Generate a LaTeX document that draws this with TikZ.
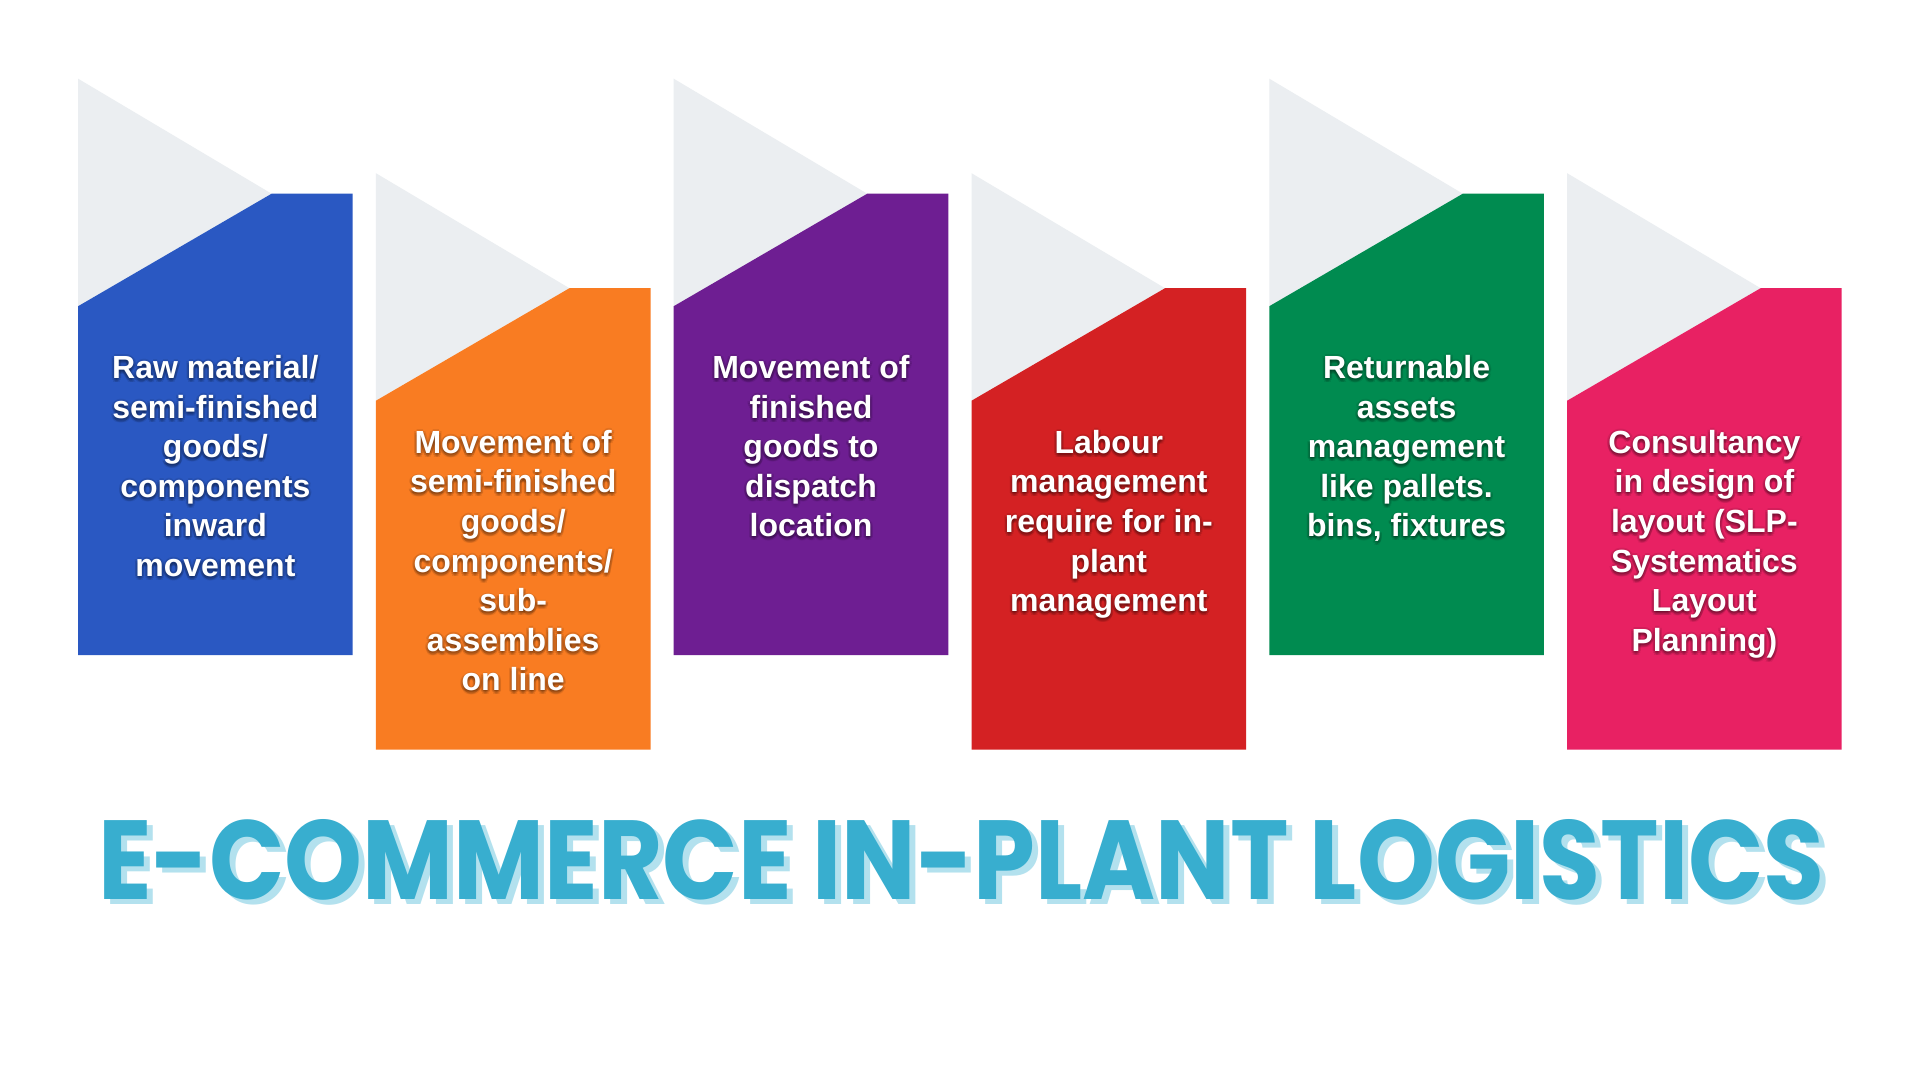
\documentclass[tikz,border=0pt]{standalone}
\usepackage{fontspec}
\usepackage{graphicx}
\setmainfont{Liberation Sans}
\newfontfamily\titlefont{Poppins}
\definecolor{trigray}{HTML}{EBEEF1}
\definecolor{cblue}{HTML}{2A58C2}
\definecolor{corange}{HTML}{F97C22}
\definecolor{cpurple}{HTML}{6E1E92}
\definecolor{cred}{HTML}{D42123}
\definecolor{cgreen}{HTML}{008B50}
\definecolor{cpink}{HTML}{E82163}
\definecolor{titleblue}{HTML}{38AECF}
\definecolor{titleshade}{HTML}{B3E1EE}
\newcommand\panel[6]{% #1 left, #2 top, #3 colour, #4 name, #5 text top, #6 text
  \coordinate (#4-tl) at (#1,#2);
  \fill[trigray] (#4-tl) -- ++(193.5,115) -- ++(-193.5,112.5) -- cycle;
  \fill[#3] (#1,#2+227.5) -- ++(193.5,-112.5) -- ++(81.1,0) -- ++(0,461.3) -- ++(-274.6,0) -- cycle;
  \foreach \dx/\dy [count=\k] in {0/3,2/2,-2/2,2.5/0.5,-2.5/0.5,0/-1.5,1/4,-1/4,0/1}
    \node[lbl, text=black, text opacity=0.085] (#4-s\k) at ({#1+137.3+\dx},{#5+\dy}) {\strut #6};
  \node[lbl] (#4) at ({#1+137.3},#5) {\strut #6};
}
\begin{document}
\begin{tikzpicture}[x=1pt,y=-1pt,
  lbl/.style={align=center, inner sep=0pt, anchor=north, text=white,
    font=\fontsize{32}{39.6}\selectfont\bfseries}]
\useasboundingbox[fill=white] (0,0) rectangle (1920,1078);
\panel{78.1}{78.7}{cblue}{p1}{350.5}{Raw material/\\semi-finished\\goods/\\components\\inward\\movement}
\panel{375.9}{173.2}{corange}{p2}{425.3}{Movement of\\semi-finished\\goods/\\components/\\sub-\\assemblies\\on line}
\panel{673.7}{78.7}{cpurple}{p3}{350.5}{Movement of\\finished\\goods to\\dispatch\\location}
\panel{971.5}{173.2}{cred}{p4}{425.3}{Labour\\management\\require for in-\\plant\\management}
\panel{1269.3}{78.7}{cgreen}{p5}{350.5}{Returnable\\assets\\management\\like pallets.\\bins, fixtures}
\panel{1567.1}{173.2}{cpink}{p6}{425.3}{Consultancy\\in design of\\layout (SLP-\\Systematics\\Layout\\Planning)}
\node[anchor=base west, inner sep=0pt, text=titleshade] (titleshadow) at (104,904)
  {\resizebox{1726pt}{80pt}{\titlefont\bfseries E-COMMERCE IN-PLANT LOGISTICS}};
\node[anchor=base west, inner sep=0pt, text=titleblue] (title) at (98,899)
  {\resizebox{1726pt}{80pt}{\titlefont\bfseries E-COMMERCE IN-PLANT LOGISTICS}};
\end{tikzpicture}
\end{document}
